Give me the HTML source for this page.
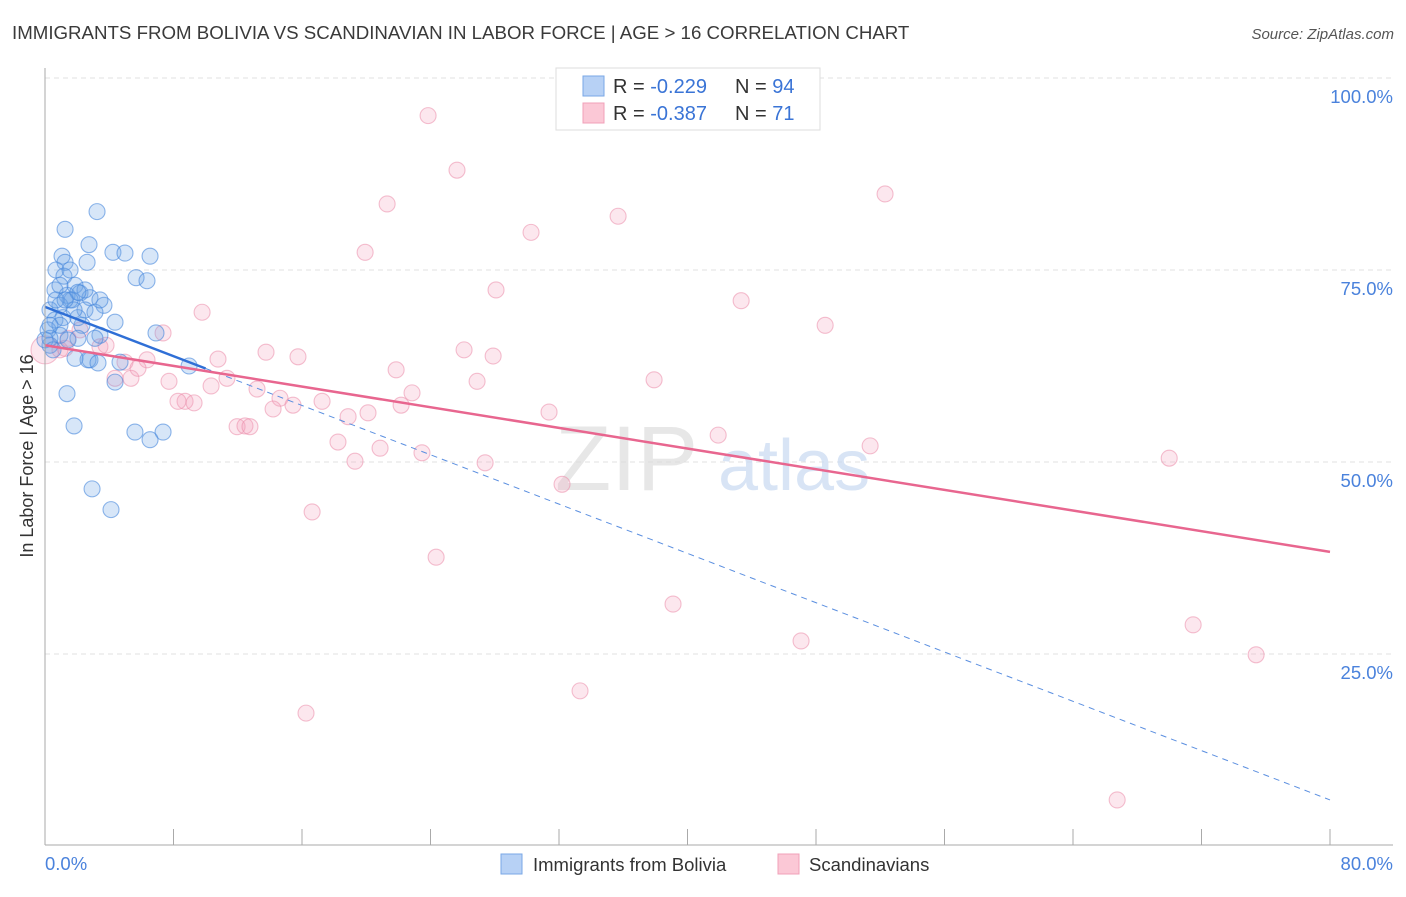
<!DOCTYPE html>
<html><head><meta charset="utf-8"><style>
body{margin:0;background:#fff;font-family:"Liberation Sans",sans-serif}
svg text{font-family:"Liberation Sans",sans-serif}
</style></head><body>
<svg id="chart" width="1406" height="892" xmlns="http://www.w3.org/2000/svg">
<text x="12" y="39" font-size="18.7" fill="#3a3a3a">IMMIGRANTS FROM BOLIVIA VS SCANDINAVIAN IN LABOR FORCE | AGE &gt; 16 CORRELATION CHART</text>
<text x="1394" y="39" font-size="15" fill="#555" text-anchor="end" font-style="italic">Source: ZipAtlas.com</text>
<text transform="translate(33,456) rotate(-90)" font-size="18" fill="#333" text-anchor="middle">In Labor Force | Age &gt; 16</text>
<g id="grid"></g>
<g><text x="555" y="490" font-size="92" fill="#ddd" font-family="Liberation Serif" opacity="0.7">ZIP</text><text x="718" y="490" font-size="72" fill="#c8daf2" opacity="0.7">atlas</text></g>
<g id="marks"></g>
<g id="axes"></g>
<g>
<rect x="556" y="68" width="264" height="62" fill="#fff" stroke="#ddd"/>
<rect x="583" y="76" width="21" height="20" fill="#b7d1f5" stroke="#7aa7e6"/>
<rect x="583" y="103" width="21" height="20" fill="#fbc8d6" stroke="#f0a0b8"/>
<text x="613" y="93" font-size="20" fill="#333">R = <tspan fill="#3a74d6">-0.229</tspan><tspan x="735">N = </tspan><tspan fill="#3a74d6">94</tspan></text>
<text x="613" y="120" font-size="20" fill="#333">R = <tspan fill="#3a74d6">-0.387</tspan><tspan x="735">N = </tspan><tspan fill="#3a74d6"> 71</tspan></text>
</g>
<g>
<rect x="501" y="854" width="21" height="20" fill="#b7d1f5" stroke="#7aa7e6"/>
<text x="533" y="871" font-size="18.5" fill="#333">Immigrants from Bolivia</text>
<rect x="778" y="854" width="21" height="20" fill="#fbc8d6" stroke="#f0a0b8"/>
<text x="809" y="871" font-size="18.5" fill="#333">Scandinavians</text>
</g>
</svg>
<script>
const yTicks=[100,75,50,25];
const yTickLabels=["100.0%","75.0%","50.0%","25.0%"];
const xTickLabels=["0.0%","80.0%"];
const blueX=[3.24,1.25,2.74,1.06,4.23,4.98,6.54,2.62,1.25,0.68,5.67,6.35,1.18,1.87,0.62,1.37,2.18,2.80,3.67,1.68,0.93,0.31,2.49,3.11,4.36,0.62,0.19,2.30,3.42,0.93,6.91,0.31,2.05,3.11,4.67,2.80,1.87,4.36,1.37,8.97,1.81,5.60,7.35,6.54,2.93,4.11,0.93,1.56,0,0.31,0.5,2.49,1.12,2.05,1.56,3.42,0.68,1.81,2.68,3.30,0.93,1.43,2.05,1.25,0.31];
const blueY=[82.6,80.3,78.3,76.8,77.3,77.2,76.8,76.0,76.0,75.0,74.0,73.6,74.2,73.0,72.4,71.7,72.0,71.4,70.4,71.1,70.4,69.8,69.8,69.5,68.2,68.5,67.2,67.8,66.5,66.5,66.8,65.2,66.1,66.1,63.0,63.3,63.5,60.4,58.9,62.5,54.7,53.9,53.9,52.9,46.5,43.8,73.0,71.1,65.9,66.1,64.6,72.4,68.8,68.8,75.0,71.1,71.1,69.8,63.3,62.9,67.8,65.9,72.1,71.1,67.8];
const pinkX=[23.85,25.65,21.30,35.68,52.30,30.26,19.93,28.08,43.34,9.78,48.57,7.35,13.76,15.75,26.09,27.90,10.77,4.98,6.35,5.35,4.36,7.72,11.33,21.86,26.90,37.92,10.34,13.20,22.85,14.63,8.72,8.28,9.28,17.25,14.20,15.44,22.17,31.38,18.87,20.11,11.96,12.45,12.76,18.24,20.86,41.91,51.37,23.47,19.30,27.40,69.99,32.19,16.63,24.35,39.10,47.07,71.48,75.40,33.31,16.25,66.75,1.25,3.42,1.43,2.18,5.79,3.80,0.93,0];
const pinkY=[95.1,88.0,83.6,82.0,84.9,79.9,77.3,72.4,71.0,69.5,67.8,66.8,64.3,63.7,64.6,63.8,63.4,63.0,63.3,60.9,60.9,60.5,60.9,62.0,60.5,60.7,59.9,59.5,59.0,58.3,57.9,57.9,57.7,57.9,56.9,57.4,57.4,56.5,55.9,56.4,54.6,54.7,54.6,52.6,51.8,53.5,52.1,51.2,50.1,49.9,50.5,47.1,43.5,37.6,31.5,26.7,28.8,24.9,20.2,17.3,6.0,64.8,65.0,66.1,67.2,62.2,65.2,64.6,64.6];
const blueTrend=[70.2,6.0];
const pinkTrend=[65.2,38.3];
const NS="http://www.w3.org/2000/svg";
const xs=v=>45+v*(1285/80);
const ys=v=>846-v*7.68;
function mk(tag,attrs,parent){const e=document.createElementNS(NS,tag);for(const k in attrs)e.setAttribute(k,attrs[k]);parent.appendChild(e);return e;}
const grid=document.getElementById('grid'),marks=document.getElementById('marks'),axes=document.getElementById('axes');
yTicks.forEach((t,i)=>{
 const l=mk('line',{x1:45,x2:1393,y1:ys(t),y2:ys(t),stroke:'#e2e2e2','stroke-dasharray':'5,4'},grid);
 
 
 const tx=mk('text',{x:1393,y:ys(t)+25,'font-size':18.5,fill:'#4a82dc','text-anchor':'end'},axes);
 tx.textContent=yTickLabels[i];
 
 
});
mk('line',{x1:45,x2:45,y1:68,y2:845,stroke:'#aaa'},axes);
mk('line',{x1:45,x2:1393,y1:845,y2:845,stroke:'#aaa'},axes);
for(let i=0;i<=10;i++){const t=mk('line',{x1:xs(i*8),x2:xs(i*8),y1:829,y2:845,stroke:'#aaa'},axes);
 
 }
[[0,'start',45],[80,'end',1393]].forEach((a,i)=>{const tx=mk('text',{x:a[2],y:870,'font-size':18.5,fill:'#4a82dc','text-anchor':a[1]},axes);tx.textContent=xTickLabels[i];
 
 });
pinkX.forEach((x,i)=>{const c=mk('circle',{cx:xs(x),cy:ys(pinkY[i]),r:(i==pinkX.length-1?14:8),fill:'rgba(245,160,188,0.25)',stroke:'rgba(235,140,170,0.55)','stroke-width':1.1},marks);
 
 });
blueX.forEach((x,i)=>{const c=mk('circle',{cx:xs(x),cy:ys(blueY[i]),r:8,fill:'rgba(110,165,230,0.28)',stroke:'rgba(70,135,220,0.6)','stroke-width':1.1},marks);
 
 });
const bAt=v=>blueTrend[0]+(blueTrend[1]-blueTrend[0])*v/80;
const l1=mk('line',{x1:xs(0),y1:ys(bAt(0)),x2:xs(10),y2:ys(bAt(10)),stroke:'#2f6fd6','stroke-width':2.5},marks);


const l2=mk('line',{x1:xs(10),y1:ys(bAt(10)),x2:xs(80),y2:ys(bAt(80)),stroke:'#5b8fe0','stroke-width':1,'stroke-dasharray':'6,5'},marks);


const l3=mk('line',{x1:xs(0),y1:ys(pinkTrend[0]),x2:xs(80),y2:ys(pinkTrend[1]),stroke:'#e8668f','stroke-width':2.5},marks);


</script>
</body></html>
